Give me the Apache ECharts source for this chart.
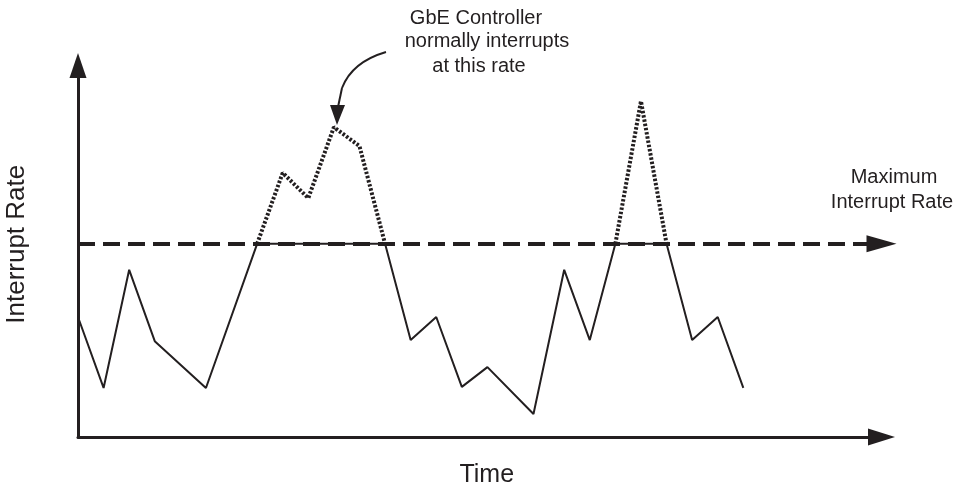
<!DOCTYPE html>
<html>
<head>
<meta charset="utf-8">
<script src="https://cdn.jsdelivr.net/npm/echarts@6/dist/echarts.min.js"></script>
<style>
html,body{margin:0;padding:0;background:#fff;}
#chart{width:961px;height:487px;}
</style>
</head>
<body>
<div id="chart"></div>
<script>
// Delivered interrupt rate (capped at the maximum)
var deliveredTime = [0, 1, 2, 3, 5, 7, 12, 13, 14, 15, 16, 17.8, 19, 20, 21, 23, 24, 25, 26];
var deliveredRate = [32.3, 13.2, 45, 25.8, 13.2, 52, 52, 26.1, 32.3, 13.5, 18.8, 6.2, 45, 26.1, 52, 52, 26.1, 32.3, 13.2];
// Rate the controller would normally interrupt at (above the maximum)
var burst1Time = [7, 8, 9, 10, 11, 12];
var burst1Rate = [52, 71.1, 64.3, 83.4, 78.3, 52];
var burst2Time = [21, 22, 23];
var burst2Rate = [52, 90.4, 52];
var maxRate = 52;
var axisMax = { x: 31.4, y: 100 };
var labels = {
  x: 'Time',
  y: 'Interrupt Rate',
  maxLine: ['Maximum', 'Interrupt Rate'],
  note: ['GbE Controller', 'normally interrupts', 'at this rate']
};

function pairs(xs, ys) { return xs.map(function (x, i) { return [x, ys[i]]; }); }

var ink = '#231f20';
var font = 'Liberation Sans, Arial, Helvetica, sans-serif';
function txt(s, x, y) {
  return { type: 'text', x: x, y: y, style: { text: s, fill: ink, font: '20px ' + font, textAlign: 'center', textVerticalAlign: 'top' } };
}
var chart = echarts.init(document.getElementById('chart'));
chart.setOption({
  backgroundColor: '#fff',
  animation: false,
  grid: { left: 78, top: 65.5, right: 79.5, bottom: 50, containLabel: false, outerBoundsMode: 'none' },
  xAxis: {
    type: 'value', min: 0, max: axisMax.x,
    name: labels.x, nameLocation: 'middle', nameGap: 26,
    nameTextStyle: { fontSize: 25, color: ink, fontFamily: font, padding: [0, 0, 0, 14] },
    axisLine: { show: true, symbol: ['none', 'triangle'], symbolSize: [17, 27], lineStyle: { color: ink, width: 3 } },
    axisTick: { show: false }, axisLabel: { show: false }, splitLine: { show: false }
  },
  yAxis: {
    type: 'value', min: 0, max: axisMax.y,
    name: labels.y, nameLocation: 'middle', nameGap: 48, nameRotate: 90,
    nameTextStyle: { fontSize: 26, color: ink, fontFamily: font, padding: [0, 0, 0, 14] },
    axisLine: { show: true, symbol: ['none', 'triangle'], symbolSize: [17, 25], lineStyle: { color: ink, width: 3 } },
    axisTick: { show: false }, axisLabel: { show: false }, splitLine: { show: false }
  },
  series: [
    {
      type: 'line', data: pairs(deliveredTime, deliveredRate), symbol: 'none', z: 2,
      lineStyle: { color: ink, width: 2 },
      markLine: {
        silent: true, symbol: ['none', 'triangle'], symbolSize: [17, 30],
        label: { show: false },
        lineStyle: { color: ink, width: 4, type: [17, 8] },
        data: [{ yAxis: maxRate }]
      }
    },
    {
      type: 'line', data: pairs(burst1Time, burst1Rate), symbol: 'none', z: 3,
      lineStyle: { color: ink, width: 4, type: [2.5, 1.8] }
    },
    {
      type: 'line', data: pairs(burst2Time, burst2Rate), symbol: 'none', z: 3,
      lineStyle: { color: ink, width: 4, type: [2.5, 1.8] }
    }
  ],
  graphic: [
    txt(labels.note[0], 476, 8),
    txt(labels.note[1], 487, 31),
    txt(labels.note[2], 479, 56),
    txt(labels.maxLine[0], 894, 167),
    txt(labels.maxLine[1], 892, 192),
    { type: 'bezierCurve', shape: { x1: 386, y1: 52, x2: 342, y2: 88, cpx1: 352, cpy1: 62 }, style: { stroke: ink, lineWidth: 2, fill: null } },
    { type: 'line', shape: { x1: 342, y1: 88, x2: 338, y2: 107 }, style: { stroke: ink, lineWidth: 2 } },
    { type: 'polygon', shape: { points: [[330, 105], [345, 105], [337, 125]] }, style: { fill: ink } }
  ]
});
</script>
</body>
</html>
